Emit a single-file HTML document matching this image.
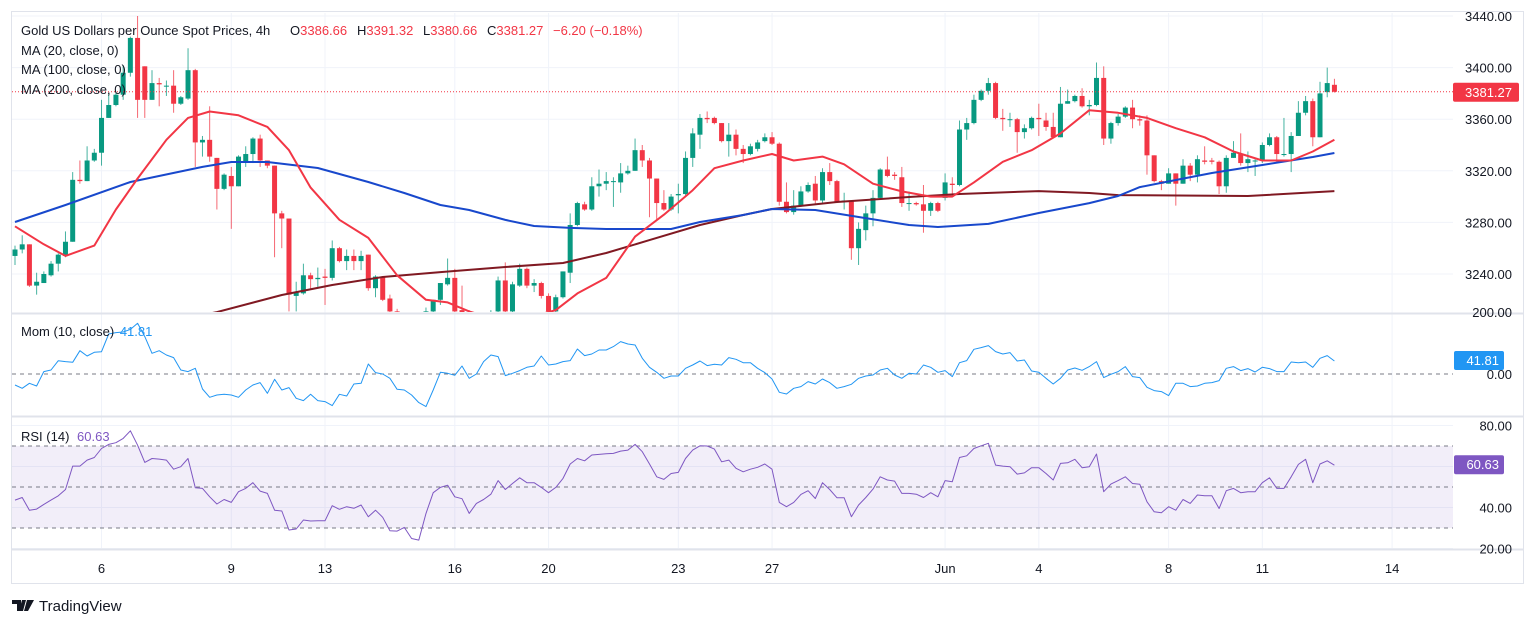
<!DOCTYPE html>
<html><head><meta charset="utf-8"><title>Gold 4h</title>
<style>
html,body{margin:0;padding:0;background:#fff;width:1536px;height:625px;overflow:hidden}
svg{display:block;font-family:"Liberation Sans",Arial,sans-serif}
</style></head>
<body>
<svg id="chart" width="1536" height="625" viewBox="0 0 1536 625">
  <defs>
    <clipPath id="mainClip"><rect x="12" y="13" width="1441" height="299"/></clipPath>
    <clipPath id="momClip"><rect x="12" y="315" width="1441" height="100"/></clipPath>
    <clipPath id="rsiClip"><rect x="12" y="418" width="1441" height="131"/></clipPath>
  </defs>
  <rect x="11.5" y="11.5" width="1512" height="572" fill="#fff" stroke="#e0e3eb"/>
  <g id="grid"></g>
  <g id="panes"></g>
  <g id="mainPane" clip-path="url(#mainClip)"></g>
  <g id="momPane" clip-path="url(#momClip)"></g>
  <g id="rsiPane" clip-path="url(#rsiClip)"></g>
  <g id="axes"></g>

  <g font-size="13" fill="#131722">
    <text x="21" y="35">Gold US Dollars per Ounce Spot Prices, 4h</text>
    <text x="290" y="35">O<tspan fill="#f23645">3386.66</tspan></text>
    <text x="357" y="35">H<tspan fill="#f23645">3391.32</tspan></text>
    <text x="423" y="35">L<tspan fill="#f23645">3380.66</tspan></text>
    <text x="487" y="35">C<tspan fill="#f23645">3381.27</tspan></text>
    <text x="553" y="35" fill="#f23645">−6.20 (−0.18%)</text>
    <text x="21" y="55">MA (20, close, 0)</text>
    <text x="21" y="74">MA (100, close, 0)</text>
    <text x="21" y="94">MA (200, close, 0)</text>
    <text x="21" y="336">Mom (10, close) <tspan fill="#2196f3" dx="2">41.81</tspan></text>
    <text x="21" y="441">RSI (14) <tspan fill="#7e57c2" dx="4">60.63</tspan></text>
  </g>

  <g>
    <path d="M12 600 h9 v11 h-4 v-7 h-5 z M22 600 h4 l-3 11 h-4 z M27 600 h7 l-6 11 h-4 z" fill="#131722"/>
    <text x="39" y="611" font-size="15" fill="#131722">TradingView</text>
  </g>
</svg>
<script>
// ---------- data ----------
const opens = [3254,3259,3263,3231,3233,3239,3248,3254,3265,3313,3312,3328,3334,3361,3371,3379,3396,3423,3401,3375,3388,3386,3386,3372,3376,3398,3342,3344,3330,3306,3316,3308,3327,3333,3345,3328,3324,3287,3283,3223,3225,3239,3236,3238,3237,3260,3250,3254,3250,3255,3229,3238,3221,3211,3200,3195,3205,3200,3211,3220,3232,3237,3212,3210,3202,3198,3203,3211,3235,3211,3231,3244,3231,3233,3223,3211,3222,3241,3278,3294,3290,3308,3310,3312,3311,3318,3320,3336,3328,3314,3295,3290,3301,3302,3330,3348,3361,3361,3357,3343,3348,3337,3333,3337,3343,3346,3341,3296,3288,3293,3304,3310,3297,3319,3312,3297,3297,3260,3274,3287,3299,3321,3317,3315,3295,3295,3294,3289,3295,3299,3310,3309,3352,3357,3375,3382,3388,3361,3360,3360,3350,3353,3361,3359,3354,3346,3372,3374,3378,3370,3371,3392,3345,3357,3362,3369,3360,3359,3332,3312,3310,3318,3310,3324,3317,3328,3328,3327,3308,3330,3333,3326,3328,3328,3340,3346,3333,3333,3347,3365,3374,3346,3381,3386.66];
const closes = [3259,3263,3231,3234,3240,3248,3255,3265,3313,3312,3328,3334,3361,3371,3379,3396,3423,3375,3375,3388,3387,3386,3372,3377,3398,3342,3344,3331,3306,3317,3308,3331,3333,3345,3328,3324,3287,3283,3224,3226,3239,3236,3237,3237,3260,3250,3254,3250,3254,3229,3238,3220,3211,3200,3195,3205,3200,3211,3220,3233,3237,3211,3210,3202,3198,3203,3208,3235,3211,3232,3244,3231,3233,3223,3211,3222,3242,3278,3295,3290,3308,3310,3312,3312,3318,3320,3336,3328,3314,3295,3290,3300,3302,3330,3349,3361,3360,3357,3343,3348,3337,3333,3339,3342,3346,3341,3296,3288,3293,3304,3309,3297,3319,3312,3296,3297,3260,3275,3287,3299,3321,3316,3316,3295,3295,3294,3289,3295,3289,3311,3309,3352,3357,3375,3382,3388,3361,3360,3360,3350,3353,3361,3360,3354,3346,3372,3374,3378,3370,3371,3392,3345,3357,3362,3369,3360,3359,3332,3312,3310,3318,3310,3324,3317,3329,3327,3327,3308,3330,3334,3326,3329,3328,3340,3346,3333,3333,3347,3365,3374,3346,3380,3388,3381.27];
const highs = [3262,3270,3263,3241,3242,3250,3256,3273,3319,3328,3339,3337,3375,3380,3381,3402,3424,3440,3401,3398,3392,3390,3398,3378,3415,3399,3347,3370,3330,3318,3323,3332,3339,3346,3348,3328,3324,3289,3283,3234,3248,3241,3245,3244,3266,3261,3259,3259,3258,3255,3239,3238,3224,3213,3205,3208,3209,3214,3220,3233,3252,3244,3231,3212,3206,3207,3212,3238,3249,3234,3248,3245,3236,3234,3225,3224,3242,3287,3296,3296,3315,3321,3319,3315,3326,3324,3345,3340,3330,3314,3305,3302,3310,3335,3353,3364,3366,3362,3357,3357,3352,3340,3341,3344,3349,3350,3342,3311,3305,3308,3311,3316,3322,3326,3313,3303,3297,3280,3293,3305,3322,3331,3319,3323,3304,3296,3309,3296,3296,3318,3315,3359,3361,3379,3383,3392,3389,3368,3365,3361,3356,3362,3372,3365,3365,3385,3383,3379,3384,3375,3404,3401,3358,3364,3370,3375,3363,3363,3332,3313,3322,3318,3329,3326,3332,3339,3330,3328,3332,3343,3349,3335,3329,3342,3349,3347,3361,3350,3374,3378,3376,3389,3400,3391.32];
const lows = [3247,3256,3230,3224,3233,3238,3242,3253,3265,3310,3312,3327,3324,3361,3370,3375,3393,3361,3361,3375,3370,3378,3365,3371,3375,3323,3331,3327,3290,3305,3275,3308,3323,3326,3323,3322,3253,3260,3211,3211,3224,3228,3230,3216,3235,3249,3243,3243,3243,3227,3222,3219,3209,3196,3190,3192,3196,3198,3209,3216,3231,3210,3205,3198,3194,3195,3200,3208,3210,3208,3230,3229,3226,3221,3208,3208,3221,3233,3277,3289,3289,3300,3305,3292,3303,3317,3320,3323,3284,3282,3289,3289,3287,3301,3323,3337,3357,3356,3342,3331,3332,3326,3332,3335,3342,3340,3293,3287,3286,3292,3303,3294,3295,3309,3295,3290,3251,3247,3266,3277,3298,3315,3313,3292,3289,3293,3272,3285,3288,3297,3301,3308,3344,3356,3374,3379,3360,3351,3354,3334,3345,3352,3347,3351,3345,3346,3372,3373,3369,3363,3370,3340,3341,3355,3361,3353,3355,3317,3311,3305,3310,3293,3310,3312,3311,3325,3325,3302,3303,3330,3324,3319,3316,3326,3339,3326,3331,3319,3347,3363,3339,3346,3377,3380.66];

const ma20Idx = [0,4,7,11,14,17,21,24,27,31,35,38,41,45,49,53,57,60,63,67,71,75,78,82,86,90,94,97,101,105,108,112,115,119,123,127,130,133,137,141,145,149,153,157,161,165,169,173,177,180,183];
const ma20Val = [3277,3263,3254,3262,3290,3314,3344,3361,3366,3363,3354,3336,3307,3282,3268,3239,3220,3218,3211,3204,3206,3212,3225,3237,3269,3286,3305,3322,3328,3333,3328,3331,3325,3310,3304,3300,3300,3311,3327,3336,3349,3367,3365,3361,3353,3346,3335,3328,3328,3335,3344];
const ma100Idx = [0,7,16,26,30,35,42,49,54,59,63,68,72,77,82,91,95,101,105,111,117,124,128,135,142,149,153,156,161,166,173,180,183];
const ma100Val = [3280.3,3293.5,3311.3,3323,3326.8,3326.8,3322.2,3311.3,3302.8,3293.5,3289.6,3281.9,3277.2,3275.7,3274.9,3274.9,3280.3,3285.7,3290.4,3289.6,3284.2,3278,3276.4,3278.8,3287.3,3295,3300.5,3307.4,3312.9,3318.3,3324.5,3330.7,3333.8];
const ma200Idx = [24,28,37,44,51,59,68,76,82,88,95,101,105,114,124,131,142,149,153,171,183];
const ma200Val = [3206,3210.5,3223.7,3231.5,3237.7,3241.5,3245.4,3248.5,3256.3,3266.3,3278,3285.7,3290.4,3295.8,3299.7,3302,3304.3,3302.8,3301.2,3300.5,3304.3];

const momVals = [-35.4,-46,-30,-38.6,7.6,13,43,40,37.7,75.3,58,70,72,129,133.4,135.5,144,163.5,120.5,66.8,75.3,61.4,52.8,13,7.6,18.4,-48.3,-75.2,-67.6,-65.5,-67.6,-75.2,-51.5,-35.4,-27.9,-62.3,-17.1,-51.5,-44,-78.4,-85.9,-65.5,-85.9,-89.1,-102,-65.5,-70.9,-32.2,-30,32.4,4.4,0.1,-13.9,-49.4,-51.5,-67.6,-92.4,-105.3,-51.5,5.5,2.3,-4.2,25.9,-13.9,0.1,39.9,61.4,56,-5.3,
2.3,10.9,21.6,25.9,58.2,29.1,32.4,39.9,43.1,80.7,59.2,64.6,77.5,77.5,88.3,104.4,96.9,93.6,50.6,21.6,5.5,-13.9,-6.4,-6.4,18.4,29.1,42,27,31.3,29.1,52.8,47.4,36.6,36.6,18.4,4.4,-16,-59,-64.4,-46.1,-40.8,-24.6,-32.2,-16,-27.9,-46.1,-40.8,-33.2,-13.9,-6.4,-3.1,13,18.4,-3.1,-13.9,2.3,0.1,29.1,21.6,5.5,10.9,-8.5,36.6,43.1,79.7,85,91.5,72.1,64.6,68.9,42,45.3,
9.8,5.5,-13.9,-32.2,-13.9,13,19.5,11.9,23.8,39.9,-11.7,-1,7.6,23.8,-8.5,-11.7,-42.9,-53.7,-56.9,-69.8,-30,-30,-40.8,-38.6,-30,-27.9,-21.4,18.4,23.8,10.9,17.3,6.6,21.6,17.3,7.6,7.6,38.8,36.6,38.8,21.6,50.6,59.2,41.81];
const rsiVals = [43.6,44.9,38.7,39.2,41.5,43.6,45.7,48.8,60.2,60.2,63.1,64.4,68.8,70.8,71.6,73.7,77.4,70.4,62,63.9,63.6,63.1,58.7,59.9,63.9,49.6,49.3,45.2,41.7,43.9,42.5,47.7,49.3,52.1,48,46.9,38.7,38.3,29,29.5,33.9,33.4,33.5,33.5,40.9,39.1,40.4,39.6,41.2,35.5,38.7,35.2,28.7,28.5,30.3,24.9,24.1,37.1,47.2,49.8,50.9,45.2,44.3,37.1,42,43.9,46.5,53.1,48.8,
51.7,54.5,52.1,52.1,49.8,47.2,49.8,54.2,61.2,63.9,62.8,65.6,65.9,66.2,66.4,67.5,68,70.8,67.2,61.2,55,53.7,56.6,57.1,63.9,68,70.1,70,68.5,62.3,63.1,59.1,57.4,58.7,59.6,61.2,58.7,42.5,40.4,42.5,46.4,48.2,44.4,52.1,48.8,44.8,44.8,35.5,41.2,44.9,49,55,53.4,52.9,46.9,46.9,46.5,44.9,47.2,45.2,53.1,52.6,64.4,65.2,68.8,70.1,71.3,60.7,60.2,59.9,56.3,56.9,
59.4,59.4,56.6,53.4,61.5,61.8,63.5,59.4,59.9,66.1,47.7,51.4,53.1,55,51.7,51.3,42.8,37.9,37.4,40.4,38.7,43.9,42,46.1,45.7,45.7,39.5,48.2,49.3,47.2,47.7,47.7,52.1,54.5,49.3,49.3,55,61,63.5,52.1,61.2,62.8,60.63];

const priceTicks = [3440,3400,3360,3320,3280,3240];
const momTicks = [200,0];
const rsiTicks = [80,40,20];
const rsiGrid = [80,60,40,20];
const dateLabels = ["6","9","13","16","20","23","27","Jun","4","8","11","14"];
const dateIdx = [12,30,43,61,74,92,105,129,142,160,173,191];
const lastPrice = 3381.27;
const lastMom = 41.81;
const lastRsi = 60.63;

// ---------- axis functions ----------
const NS = "http://www.w3.org/2000/svg";
const N = closes.length;
const xOf = i => 15 + i * 7.21;
const yPrice = p => 16 + (3440 - p) * 1.29;
const yMom = v => 374 - v * 0.31;
const yRsi = v => 487 - (v - 50) * 2.05;
function mk(tag, attrs, parent) {
  const e = document.createElementNS(NS, tag);
  for (const k in attrs) e.setAttribute(k, attrs[k]);
  parent.appendChild(e);
  return e;
}
const grid = document.getElementById('grid');
const panes = document.getElementById('panes');
const mainPane = document.getElementById('mainPane');
const momPane = document.getElementById('momPane');
const rsiPane = document.getElementById('rsiPane');
const axes = document.getElementById('axes');
const X0 = 12, X1 = 1453;

dateLabels.forEach((lab, k) => {
  const x = xOf(dateIdx[k]);
  const l = mk('line', {x1: x, x2: x, y1: 13, y2: 549, stroke: '#f0f3fa', 'stroke-width': 1}, grid);
  
  
  const t = mk('text', {x: x, y: 573, 'font-size': 13, fill: '#131722', 'text-anchor': 'middle'}, axes);
  t.textContent = lab;
  
  
});
priceTicks.forEach(p => {
  const y = yPrice(p);
  const l = mk('line', {x1: X0, x2: X1, y1: y, y2: y, stroke: '#f0f3fa'}, grid);
  
  
  const t = mk('text', {x: 1512, y: y + 5, 'font-size': 13, fill: '#131722', 'text-anchor': 'end'}, axes);
  t.textContent = p.toFixed(2);
  
  
});
momTicks.forEach(v => {
  const y = yMom(v);
  const t = mk('text', {x: 1512, y: y + 5, 'font-size': 13, fill: '#131722', 'text-anchor': 'end'}, axes);
  t.textContent = v.toFixed(2);
  
  
});
rsiGrid.forEach(v => {
  const y = yRsi(v);
  const l = mk('line', {x1: X0, x2: X1, y1: y, y2: y, stroke: '#f0f3fa'}, grid);
  
  
});
rsiTicks.forEach(v => {
  const y = yRsi(v);
  const t = mk('text', {x: 1512, y: y + 5, 'font-size': 13, fill: '#131722', 'text-anchor': 'end'}, axes);
  t.textContent = v.toFixed(2);
  
  
});
[313.5, 416.5, 549.5].forEach(y => {
  const l = mk('line', {x1: 12, x2: 1524, y1: y, y2: y, stroke: '#e0e3eb', 'stroke-width': 2}, panes);
  
  
});

for (let i = 0; i < N; i++) {
  const up = closes[i] >= opens[i];
  const col = up ? '#089981' : '#f23645';
  const x = xOf(i);
  const g = mk('g', {}, mainPane);
  
  
  mk('line', {x1: x, x2: x, y1: yPrice(highs[i]), y2: yPrice(lows[i]), stroke: col, 'stroke-width': 1, opacity: 0.75}, g);
  const yt = yPrice(Math.max(opens[i], closes[i]));
  const yb = yPrice(Math.min(opens[i], closes[i]));
  mk('rect', {x: x - 2.5, y: yt, width: 5, height: Math.max(1, yb - yt), fill: col}, g);
}
function lineFrom(idx, vals, yf, parent, color, w) {
  const pts = idx.map((k, j) => xOf(k).toFixed(1) + ',' + yf(vals[j]).toFixed(1)).join(' ');
  return mk('polyline', {points: pts, fill: 'none', stroke: color, 'stroke-width': w, 'stroke-linejoin': 'round'}, parent);
}
const m200 = lineFrom(ma200Idx, ma200Val, yPrice, mainPane, '#801922', 2);


const m100 = lineFrom(ma100Idx, ma100Val, yPrice, mainPane, '#1848cc', 2);


const m20 = lineFrom(ma20Idx, ma20Val, yPrice, mainPane, '#f23645', 2);



const ly = yPrice(lastPrice);
const lp = mk('line', {x1: X0, x2: X1, y1: ly, y2: ly, stroke: '#f23645', 'stroke-dasharray': '1 2'}, axes);


const lb = mk('rect', {x: 1453, y: ly - 9, width: 66, height: 19, rx: 2, fill: '#f23645'}, axes);


const lt = mk('text', {x: 1512, y: ly + 5, 'font-size': 13, fill: '#fff', 'text-anchor': 'end'}, axes);
lt.textContent = lastPrice.toFixed(2);



const mz = mk('line', {x1: X0, x2: X1, y1: yMom(0), y2: yMom(0), stroke: '#787b86', 'stroke-dasharray': '4 4'}, momPane);


const mIdx = momVals.map((v, k) => k * (N - 1) / (momVals.length - 1));
const mline = lineFrom(mIdx, momVals, yMom, momPane, '#2196f3', 1);


const mb = mk('rect', {x: 1454, y: yMom(lastMom) - 10, width: 50, height: 19, rx: 2, fill: '#2196f3'}, axes);


const mt = mk('text', {x: 1499, y: yMom(lastMom) + 4, 'font-size': 13, fill: '#fff', 'text-anchor': 'end'}, axes);
mt.textContent = lastMom.toFixed(2);



const band = mk('rect', {x: X0, y: yRsi(70), width: X1 - X0, height: yRsi(30) - yRsi(70), fill: 'rgba(126,87,194,0.1)'}, rsiPane);


[70, 50, 30].forEach(v => {
  const l = mk('line', {x1: X0, x2: X1, y1: yRsi(v), y2: yRsi(v), stroke: '#787b86', 'stroke-dasharray': '4 4'}, rsiPane);
  
  
});
const rIdx = rsiVals.map((v, k) => k * (N - 1) / (rsiVals.length - 1));
const rline = lineFrom(rIdx, rsiVals, yRsi, rsiPane, '#7e57c2', 1);


const rb = mk('rect', {x: 1454, y: yRsi(lastRsi) - 10, width: 50, height: 19, rx: 2, fill: '#7e57c2'}, axes);


const rt = mk('text', {x: 1499, y: yRsi(lastRsi) + 4, 'font-size': 13, fill: '#fff', 'text-anchor': 'end'}, axes);
rt.textContent = lastRsi.toFixed(2);


</script>
</body></html>
